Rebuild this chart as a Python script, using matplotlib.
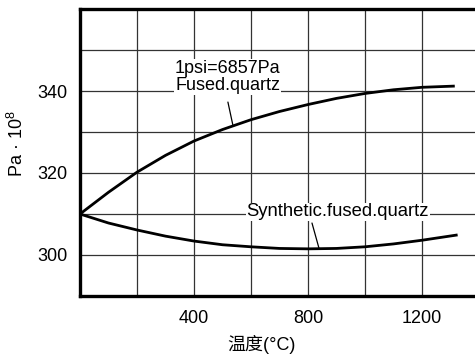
import matplotlib
matplotlib.use("Agg")
import matplotlib.pyplot as plt
import numpy as np

plt.rcParams['font.family'] = ['Liberation Sans', 'Noto Sans CJK SC', 'DejaVu Sans']
plt.rcParams['mathtext.fontset'] = 'custom'
plt.rcParams['mathtext.rm'] = 'Liberation Sans'

# temperature (°C) vs value (Pa x 10^8)
temp_fused = [0, 100, 200, 300, 400, 500, 600, 700, 800, 900, 1000, 1100, 1200, 1315]
val_fused = [310.0, 315.3, 320.2, 324.3, 327.8, 330.6, 333.0, 335.0, 336.7, 338.2,
             339.4, 340.3, 340.9, 341.2]
temp_synth = [0, 100, 200, 300, 400, 500, 600, 700, 800, 900, 1000, 1100, 1200, 1325]
val_synth = [310.0, 307.8, 306.1, 304.6, 303.4, 302.5, 302.0, 301.6, 301.5, 301.6,
             302.0, 302.7, 303.6, 304.9]

x_grid = [200, 400, 600, 800, 1000, 1200]
x_labels = ['', '400', '', '800', '', '1200']
y_grid = [300, 310, 320, 330, 340, 350]
y_labels = ['300', '', '320', '', '340', '']

fig = plt.figure(figsize=(4.75, 3.54), dpi=100)
ax = fig.add_axes([80 / 475, 1 - 296 / 354, 1 - 80 / 475, 287 / 354])

ax.plot(temp_fused, val_fused, color='black', lw=2.0, solid_capstyle='butt', zorder=3)
ax.plot(temp_synth, val_synth, color='black', lw=2.0, solid_capstyle='butt', zorder=3)

ax.set_xlim(0, 1386)
ax.set_ylim(290, 360)
ax.set_xticks(x_grid)
ax.set_xticklabels(x_labels)
ax.set_yticks(y_grid)
ax.set_yticklabels(y_labels)
ax.tick_params(length=0, labelsize=13)
ax.tick_params(axis='x', pad=10)
ax.tick_params(axis='y', pad=9)
ax.grid(True, color='#333333', lw=0.9)
ax.set_axisbelow(True)

for side in ('left', 'bottom', 'top'):
    ax.spines[side].set_linewidth(2.4)
ax.spines['right'].set_visible(False)

ax.set_xlabel('温度(°C)', fontsize=13)
ax.xaxis.set_label_coords(0.46, -0.135)
ax.set_ylabel('Pa · 10$^{8}$', fontsize=13)
ax.yaxis.set_label_coords(-0.133, 0.53)

box = dict(facecolor='white', edgecolor='none', pad=0.5)

ax.text(519, 339.2, '1psi=6857Pa\nFused.quartz', fontsize=13, ha='center', va='bottom',
        linespacing=1.05, bbox=box, zorder=4)
ax.annotate('', xy=(537, np.interp(537, temp_fused, val_fused)), xytext=(519, 337.3),
            arrowprops=dict(arrowstyle='-', color='black', lw=0.9, shrinkA=0, shrinkB=0))

ax.text(905, 309.4, 'Synthetic.fused.quartz', fontsize=13.3, ha='center', va='baseline',
        bbox=box, zorder=4)
ax.annotate('', xy=(839, np.interp(839, temp_synth, val_synth)), xytext=(814, 307.8),
            arrowprops=dict(arrowstyle='-', color='black', lw=0.9, shrinkA=0, shrinkB=0))

plt.savefig('out.png', dpi=100)
